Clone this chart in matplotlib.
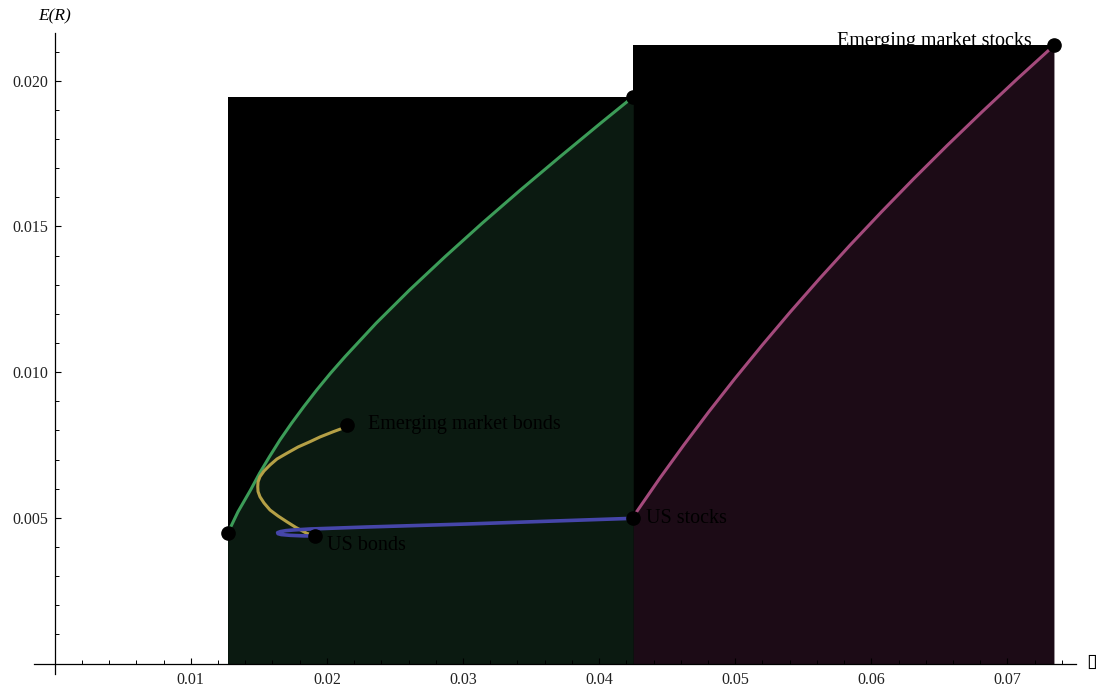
import matplotlib
matplotlib.use("Agg")
import matplotlib.pyplot as plt
from matplotlib.ticker import FixedLocator, FuncFormatter

# ---- data (sigma, E(R)) ----
green_sigma = [0.01271, 0.01347, 0.01439, 0.01505, 0.01578, 0.01655, 0.01740, 0.01830,
               0.01925, 0.02026, 0.02133, 0.02361, 0.02607, 0.02868, 0.03140, 0.03422,
               0.03713, 0.04010, 0.04251]
green_er = [0.004468, 0.005209, 0.005954, 0.006527, 0.007097, 0.007670, 0.008243, 0.008813,
            0.009386, 0.009959, 0.010528, 0.011675, 0.012817, 0.013960, 0.015106, 0.016249,
            0.017392, 0.018538, 0.019451]

pink_sigma = [0.04251, 0.04276, 0.04445, 0.04622, 0.04806, 0.04998, 0.05198, 0.05405,
              0.05620, 0.05843, 0.06074, 0.06312, 0.06558, 0.06812, 0.07073, 0.07342]
pink_er = [0.004983, 0.005209, 0.006352, 0.007495, 0.008638, 0.009780, 0.010923, 0.012066,
           0.013209, 0.014352, 0.015494, 0.016637, 0.017780, 0.018923, 0.020065, 0.021208]

yellow_sigma = [0.02150, 0.02146, 0.02047, 0.01949, 0.01876, 0.01788, 0.01705, 0.01633,
                0.01582, 0.01538, 0.01508, 0.01494, 0.01492, 0.01494, 0.01508, 0.01538,
                0.01582, 0.01641, 0.01705, 0.01773, 0.01852, 0.01913]
yellow_er = [0.008190, 0.008126, 0.007955, 0.007773, 0.007612, 0.007430, 0.007213, 0.007018,
             0.006812, 0.006606, 0.006410, 0.006229, 0.006067, 0.005903, 0.005724, 0.005508,
             0.005268, 0.005062, 0.004866, 0.004667, 0.004468, 0.004376]

blue_sigma = [0.04251, 0.03027, 0.02292, 0.01876, 0.01753, 0.01700, 0.01660, 0.01638,
              0.01641, 0.01665, 0.01729, 0.01827, 0.01913]
blue_er = [0.004983, 0.004787, 0.004684, 0.004616, 0.004581, 0.004560, 0.004528, 0.004490,
           0.004455, 0.004425, 0.004399, 0.004380, 0.004376]

point_names = ["", "Emerging market bonds", "US bonds", "US stocks", "", "Emerging market stocks"]
point_sigma = [0.01271, 0.02150, 0.01913, 0.04251, 0.04251, 0.07342]
point_er = [0.004468, 0.00819, 0.004376, 0.004983, 0.019451, 0.021208]

x_major = [0.01, 0.02, 0.03, 0.04, 0.05, 0.06, 0.07]
y_major = [0.005, 0.010, 0.015, 0.020]

# ---- figure ----
W, H = 1099, 687
fig = plt.figure(figsize=(W / 100, H / 100), dpi=100)
ax = fig.add_axes([0, 0, 1, 1])
ax.set_facecolor("white")

# pixel mapping: x_px = 54.7 + 13610*x ; y_px = 663.5 - 29140*y
xs, x0 = 13610.0, 54.7
ys, y0 = 29140.0, 663.5
ax.set_xlim((0 - x0) / xs, (W - x0) / xs)
ax.set_ylim((y0 - H) / ys, y0 / ys)

serif = ["Liberation Serif", "DejaVu Serif"]

# filled regions
ax.fill_between([green_sigma[0], green_sigma[-1]], 0, green_er[-1], color="black", lw=0, zorder=1)
ax.fill_between(green_sigma, 0, green_er, color="#0b1a11", lw=0, zorder=1.1)
ax.fill_between([pink_sigma[0], pink_sigma[-1]], 0, pink_er[-1], color="black", lw=0, zorder=1)
ax.fill_between(pink_sigma, 0, pink_er, color="#1c0b16", lw=0, zorder=1.1)

# curves
kw = dict(zorder=3, solid_capstyle="butt", solid_joinstyle="round")
ax.plot(green_sigma, green_er, color="#3c9c58", lw=2.2, **kw)
ax.plot(pink_sigma, pink_er, color="#a44a7c", lw=2.2, **kw)
ax.plot(yellow_sigma, yellow_er, color="#b5a046", lw=2.2, **kw)
ax.plot(blue_sigma, blue_er, color="#4646aa", lw=2.6, **kw)

# points
ax.plot(point_sigma, point_er, "o", color="black", ms=9.5, zorder=5, ls="none")

# labels
ax.text(point_sigma[1] + 0.00152, point_er[1], point_names[1], fontsize=14.5, family=serif,
        ha="left", va="center", color="black", zorder=6)
ax.text(point_sigma[2] + 0.00087, point_er[2] - 0.00031, point_names[2], fontsize=14.5, family=serif,
        ha="left", va="center", color="black", zorder=6)
ax.text(point_sigma[3] + 0.00094, point_er[3], point_names[3], fontsize=14.5, family=serif,
        ha="left", va="center", color="black", zorder=6)
ax.text(point_sigma[5] - 0.00165, point_er[5] + 0.00013, point_names[5], fontsize=14.5, family=serif,
        ha="right", va="center", color="black", zorder=0.5)

# axes through origin
for s in ["top", "right"]:
    ax.spines[s].set_visible(False)
ax.spines["left"].set_position(("data", 0))
ax.spines["bottom"].set_position(("data", 0))
ax.spines["left"].set_bounds((y0 - 674) / ys, (y0 - 32.5) / ys)
ax.spines["bottom"].set_bounds((33.5 - x0) / xs, (1076 - x0) / xs)
for s in ["left", "bottom"]:
    ax.spines[s].set_linewidth(0.9)
    ax.spines[s].set_zorder(4)

ax.xaxis.set_major_locator(FixedLocator(x_major))
ax.yaxis.set_major_locator(FixedLocator(y_major))
x_minor = [i * 0.002 for i in range(1, 38) if i % 5 != 0]
y_minor = [i * 0.001 for i in range(1, 22) if i % 5 != 0]
ax.xaxis.set_minor_locator(FixedLocator(x_minor))
ax.yaxis.set_minor_locator(FixedLocator(y_minor))
ax.xaxis.set_major_formatter(FuncFormatter(lambda v, p: f"{v:.2f}"))
ax.yaxis.set_major_formatter(FuncFormatter(lambda v, p: f"{v:.3f}"))

ax.tick_params(axis="both", which="major", direction="in", length=4.5, width=0.8, colors="black")
ax.tick_params(axis="both", which="minor", direction="in", length=2.8, width=0.7, colors="black")
ax.tick_params(axis="x", which="major", pad=6.0, labelsize=11.5)
ax.tick_params(axis="y", which="major", pad=4.5, labelsize=11.5)
for lab in ax.get_xticklabels() + ax.get_yticklabels():
    lab.set_family(serif)
    lab.set_color("#222222")

# axis labels
ax.text(0.0, (y0 - 16) / ys, "E(R)", fontsize=12.5, family=serif, style="italic",
        ha="center", va="center", color="black")
ax.text((1092 - x0) / xs, (y0 - 661) / ys, "\u25af", fontsize=14,
        family=["DejaVu Sans"], ha="center", va="center", color="black")

fig.savefig("out.png", dpi=100)
